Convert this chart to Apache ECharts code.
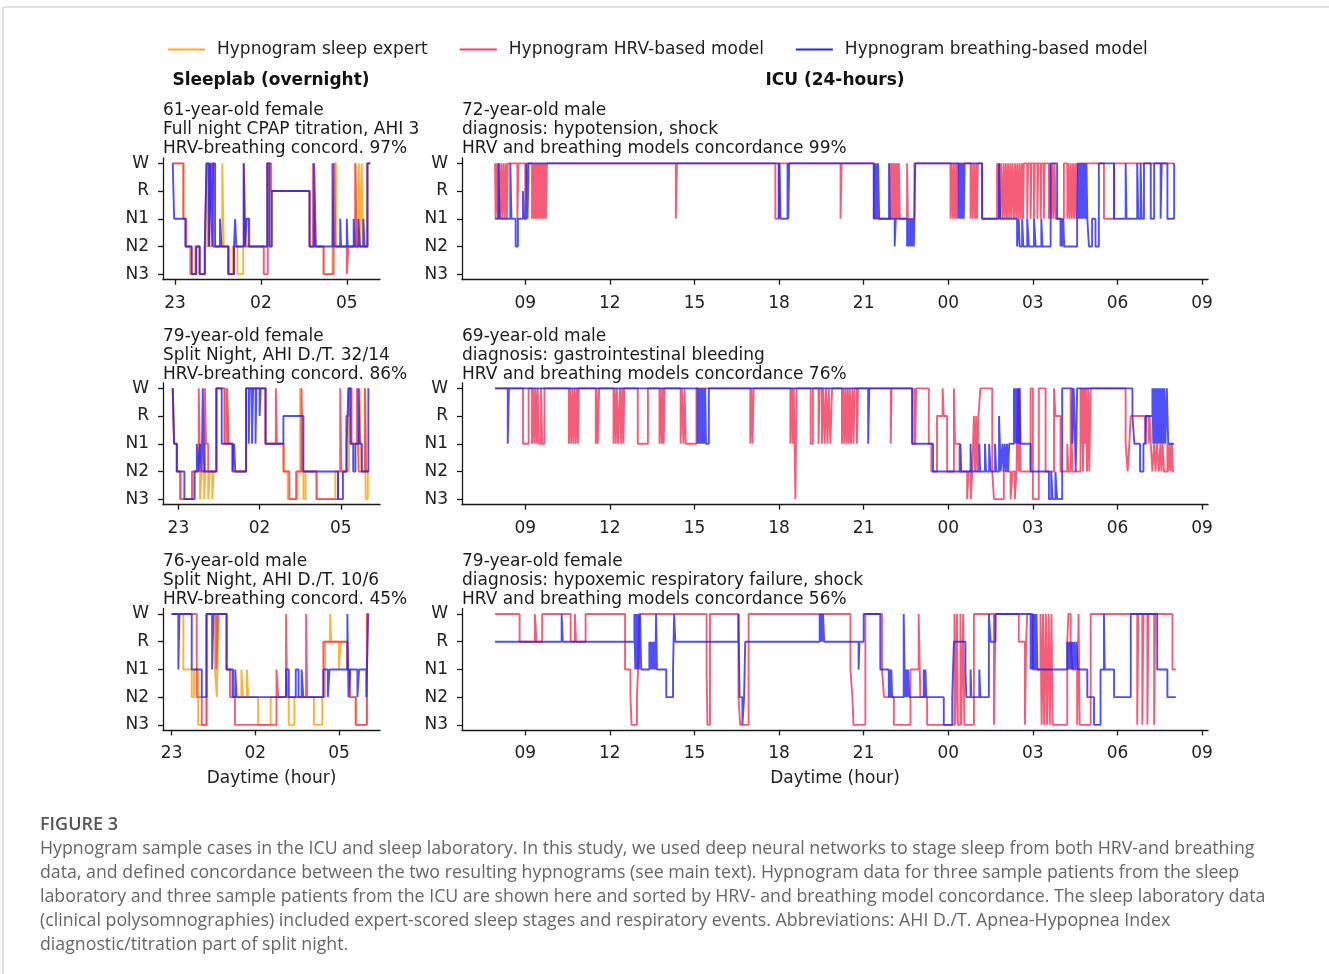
<!DOCTYPE html>
<html><head><meta charset="utf-8">
<script src="https://cdn.jsdelivr.net/npm/echarts@6/dist/echarts.min.js"></script>
<style>html,body{margin:0;padding:0;background:#fff;} #c{width:1329px;height:974px;}</style>
</head><body><div id="c"></div>
<script>
// ---------- labels ----------
const stageLabels = ['N3','N2','N1','R','W'];   // 0..4
const seriesNames = ['Hypnogram sleep expert','Hypnogram HRV-based model','Hypnogram breathing-based model'];
const sleeplabTicks = [23,26,29];
const icuTicks = [9,12,15,18,21,24,27,30,33];
const sleeplabTitles = [
  ['61-year-old female','Full night CPAP titration, AHI 3','HRV-breathing concord. 97%'],
  ['79-year-old female','Split Night, AHI D./T. 32/14','HRV-breathing concord. 86%'],
  ['76-year-old male','Split Night, AHI D./T. 10/6','HRV-breathing concord. 45%']
];
const icuTitles = [
  ['72-year-old male','diagnosis: hypotension, shock','HRV and breathing models concordance 99%'],
  ['69-year-old male','diagnosis: gastrointestinal bleeding','HRV and breathing models concordance 76%'],
  ['79-year-old female','diagnosis: hypoxemic respiratory failure, shock','HRV and breathing models concordance 56%']
];
const captionHead = 'FIGURE 3';
const captionLines = [
  'Hypnogram sample cases in the ICU and sleep laboratory. In this study, we used deep neural networks to stage sleep from both HRV-and breathing',
  'data, and defined concordance between the two resulting hypnograms (see main text). Hypnogram data for three sample patients from the sleep',
  'laboratory and three sample patients from the ICU are shown here and sorted by HRV- and breathing model concordance. The sleep laboratory data',
  '(clinical polysomnographies) included expert-scored sleep stages and respiratory events. Abbreviations: AHI D./T. Apnea-Hypopnea Index',
  'diagnostic/titration part of split night.'
];

// ---------- data: [hour, stage] change points (hour > 24 = next day) ----------
const sleeplab1Expert = [22.92,4, 23.30,2, 23.40,1, 23.52,0, 23.70,1, 23.86,0, 24.04,1, 24.12,4, 24.18,1, 24.65,4, 24.70,1, 24.90,0, 25.02,1, 25.18,0, 25.38,1, 25.50,2, 25.60,1, 26.22,4, 26.30,1, 26.38,3, 27.70,1, 28.19,0, 28.50,1, 28.55,4, 28.62,1, 29.30,4, 29.34,1, 29.42,4, 29.46,1, 29.52,4, 29.56,1, 29.72,4, 29.82,4];
const sleeplab1Hrv = [22.92,4, 23.29,2, 23.38,1, 23.58,0, 23.74,1, 23.86,0, 24.04,1, 24.10,4, 24.20,1, 24.26,4, 24.34,1, 24.86,0, 25.06,1, 25.40,4, 25.46,1, 26.10,0, 26.24,4, 26.36,3, 27.70,1, 27.82,4, 27.88,1, 28.19,0, 28.54,1, 28.56,4, 28.60,1, 29.00,0, 29.06,1, 29.30,4, 29.34,1, 29.72,4, 29.82,4];
const sleeplab1Breath = [22.92,4, 22.97,2, 23.36,1, 23.58,0, 23.74,1, 23.86,0, 24.04,1, 24.10,4, 24.18,1, 24.24,4, 24.30,1, 24.33,4, 24.40,1, 24.57,2, 24.62,1, 24.86,0, 25.06,1, 25.10,2, 25.14,1, 25.40,4, 25.44,1, 25.50,2, 25.58,1, 26.22,4, 26.30,1, 26.38,3, 27.70,1, 27.86,4, 27.92,1, 28.50,4, 28.54,1, 28.77,2, 28.80,1, 29.00,2, 29.03,1, 29.24,2, 29.28,1, 29.40,2, 29.46,1, 29.58,2, 29.62,1, 29.72,4, 29.82,4];

const sleeplab2Expert = [22.79,4, 22.84,2, 22.94,1, 23.10,0, 23.55,1, 23.80,0, 23.86,1, 23.95,0, 24.00,1, 24.10,0, 24.16,1, 24.25,0, 24.30,1, 24.42,4, 24.72,2, 24.76,4, 24.82,2, 25.02,1, 25.50,4, 26.22,2, 26.90,1, 27.04,0, 27.40,1, 27.50,4, 27.54,1, 27.62,0, 27.70,1, 28.10,0, 28.80,1, 29.30,4, 29.36,2, 29.70,4, 29.76,1, 29.88,4, 29.92,0, 30.00,1, 30.04,1];
const sleeplab2Hrv = [22.79,4, 22.84,2, 22.94,1, 23.06,0, 23.50,1, 23.75,4, 23.80,1, 23.98,4, 24.02,2, 24.10,1, 24.40,4, 24.70,2, 24.80,4, 24.86,2, 25.00,1, 25.50,4, 26.22,2, 26.60,4, 26.64,2, 26.88,1, 27.10,0, 27.35,1, 27.55,4, 27.60,1, 28.11,0, 28.90,1, 28.98,4, 29.02,1, 29.20,3, 29.30,4, 29.40,2, 29.60,4, 29.66,1, 29.90,4, 29.94,1, 30.04,1];
const sleeplab2Breath = [22.79,4, 22.84,2, 22.94,1, 23.22,0, 23.60,1, 23.68,2, 23.74,1, 23.80,2, 23.86,1, 23.90,4, 23.95,1, 24.40,4, 24.60,2, 25.00,1, 25.06,2, 25.10,1, 25.50,4, 25.60,2, 25.64,4, 25.72,2, 25.76,4, 25.85,2, 25.88,4, 26.00,3, 26.04,4, 26.22,2, 26.88,3, 27.62,1, 28.90,0, 29.08,1, 29.22,2, 29.28,4, 29.36,2, 29.46,1, 29.54,2, 29.66,4, 29.70,2, 29.78,1, 30.02,4, 30.04,4];

const sleeplab3Expert = [23.00,4, 23.42,2, 23.72,1, 23.80,2, 23.95,0, 24.25,4, 24.55,2, 24.62,1, 24.68,4, 24.97,2, 25.15,1, 25.50,2, 25.56,1, 25.70,2, 25.74,1, 26.10,0, 26.55,1, 27.20,0, 27.40,1, 28.10,0, 28.40,1, 28.50,3, 28.68,4, 28.72,3, 29.00,2, 29.06,3, 29.30,2, 29.40,1, 29.60,0, 30.00,4, 30.06,4];
const sleeplab3Hrv = [23.00,4, 23.90,1, 24.08,0, 24.25,4, 24.60,2, 24.66,4, 24.97,2, 25.09,1, 25.27,0, 26.76,2, 26.82,1, 27.10,4, 27.14,1, 27.82,4, 27.86,1, 28.44,3, 29.30,2, 29.39,1, 29.60,0, 30.00,4, 30.06,4];
const sleeplab3Breath = [23.00,4, 23.24,2, 23.28,4, 23.72,2, 24.08,1, 24.25,4, 24.45,2, 24.50,4, 24.97,2, 25.20,1, 25.28,2, 25.33,1, 27.10,2, 27.20,1, 27.45,2, 27.55,1, 27.66,2, 27.72,1, 28.44,2, 28.60,1, 28.66,2, 29.30,4, 29.34,1, 29.40,2, 29.66,1, 29.72,2, 29.98,1, 30.05,4, 30.06,4];

const icu1Hrv = [7.93,4, 7.95,2, 7.99,4, 8.03,2, 8.07,4, 8.11,2, 8.15,4, 8.19,2, 8.23,4, 8.27,2, 8.31,4, 8.35,2, 8.38,4, 8.72,2, 8.76,4, 9.00,2, 9.05,4, 9.24,2, 9.28,4, 9.31,2, 9.34,4, 9.37,2, 9.40,4, 9.43,2, 9.46,4, 9.49,2, 9.52,4, 9.55,2, 9.58,4, 9.61,2, 9.64,4, 9.67,2, 9.70,4, 9.73,2, 9.77,4, 14.34,2, 14.38,4, 17.87,2, 17.99,4, 20.18,2, 20.22,4, 21.36,2, 21.95,4, 21.98,2, 22.01,4, 22.04,2, 22.07,4, 22.10,2, 22.13,4, 22.16,2, 22.19,4, 22.22,2, 22.25,4, 22.28,2, 22.54,4, 22.57,2, 22.80,4, 24.08,2, 24.12,4, 24.16,2, 24.20,4, 24.24,2, 24.28,4, 24.31,2, 24.35,4, 24.79,2, 24.83,4, 24.87,2, 24.91,4, 24.95,2, 24.99,4, 25.02,2, 25.05,4, 25.20,2, 25.73,4, 25.76,2, 25.80,4, 25.83,2, 25.87,4, 25.92,2, 25.96,4, 26.00,2, 26.04,4, 26.08,2, 26.12,4, 26.16,2, 26.20,4, 26.24,2, 26.28,4, 26.33,2, 26.37,4, 26.41,2, 26.45,4, 26.49,2, 26.53,4, 26.57,2, 26.61,4, 26.65,2, 26.68,4, 26.80,2, 26.83,4, 26.92,2, 26.95,4, 27.04,2, 27.07,4, 27.16,2, 27.19,4, 27.28,2, 27.31,4, 27.39,2, 27.42,4, 27.57,2, 27.61,4, 27.65,2, 27.69,4, 27.73,2, 27.77,4, 27.81,2, 28.10,4, 28.22,2, 28.26,4, 28.30,2, 28.34,4, 28.38,2, 28.42,4, 28.46,2, 28.50,4, 28.54,2, 28.57,4, 29.52,2, 29.88,4, 32.01,4];
const icu1Breath = [7.93,2, 8.05,4, 8.09,2, 8.47,4, 8.51,2, 8.66,1, 8.74,2, 8.92,3, 8.96,2, 9.04,4, 9.08,2, 9.12,4, 17.99,2, 18.02,4, 18.05,2, 18.30,4, 18.33,2, 18.36,4, 21.36,2, 21.39,4, 21.42,2, 21.45,4, 21.48,2, 21.51,4, 21.55,2, 21.90,4, 21.93,2, 22.10,1, 22.14,2, 22.54,1, 22.57,2, 22.60,1, 22.63,2, 22.66,1, 22.69,2, 22.72,1, 22.75,2, 22.78,1, 22.83,4, 24.37,2, 24.40,4, 24.43,2, 24.46,4, 24.49,2, 24.52,4, 24.55,2, 24.58,4, 25.20,2, 25.80,4, 25.84,2, 26.44,1, 26.50,2, 26.53,1, 26.62,2, 26.66,1, 26.80,2, 26.86,1, 27.04,2, 27.10,1, 27.30,2, 27.34,1, 27.63,4, 27.86,2, 27.98,1, 28.02,2, 28.05,1, 28.08,2, 28.11,1, 28.57,2, 28.60,4, 28.63,2, 28.66,4, 28.69,2, 28.72,4, 28.75,2, 28.78,4, 28.81,2, 28.84,4, 28.87,2, 28.90,4, 28.93,2, 28.99,1, 29.10,2, 29.22,1, 29.34,4, 29.88,2, 30.29,4, 30.32,2, 30.70,4, 30.74,2, 30.82,4, 30.86,2, 30.94,4, 31.18,2, 31.30,4, 31.53,2, 31.57,4, 31.77,2, 32.01,4];

const icu2Hrv = [7.93,4, 8.92,2, 9.12,4, 9.24,2, 9.28,4, 9.32,2, 9.36,4, 9.40,2, 9.44,4, 9.48,2, 9.56,4, 9.60,2, 9.68,4, 10.55,2, 10.59,4, 10.63,2, 10.67,4, 10.71,2, 10.75,4, 10.79,2, 10.83,4, 10.87,2, 10.90,4, 11.50,2, 11.53,4, 11.57,2, 11.62,4, 12.13,2, 12.17,4, 12.21,2, 12.25,4, 12.29,2, 12.36,4, 12.40,2, 12.44,4, 12.48,2, 12.51,4, 12.99,2, 13.35,4, 13.76,2, 13.80,4, 13.84,2, 13.88,4, 13.91,2, 13.94,4, 14.51,2, 14.55,4, 14.61,2, 14.65,4, 14.69,2, 15.07,4, 16.98,2, 17.02,4, 17.06,2, 17.10,4, 18.40,2, 18.46,4, 18.49,2, 18.52,4, 18.58,0, 18.62,4, 19.12,2, 19.20,4, 19.40,2, 19.44,4, 19.52,2, 19.56,4, 19.62,2, 19.66,4, 19.72,2, 19.76,4, 19.82,2, 19.88,4, 20.23,2, 20.27,4, 20.31,2, 20.35,4, 20.39,2, 20.43,4, 20.47,2, 20.51,4, 20.55,2, 20.60,4, 20.64,2, 20.68,4, 20.76,2, 20.80,4, 21.96,2, 21.99,4, 22.72,2, 22.80,4, 22.83,2, 22.86,4, 23.31,2, 23.40,1, 23.60,3, 23.80,4, 23.84,3, 23.96,1, 24.20,4, 24.24,2, 24.40,1, 24.67,0, 24.72,1, 24.80,0, 24.85,1, 24.91,3, 24.95,1, 24.99,3, 25.03,1, 25.07,3, 25.14,4, 25.56,1, 25.62,0, 25.97,1, 26.21,0, 26.28,1, 26.36,0, 26.42,1, 26.47,4, 26.50,1, 26.53,4, 26.56,1, 26.92,4, 27.00,0, 27.21,4, 27.45,1, 27.75,4, 27.80,3, 27.98,1, 28.22,2, 28.26,1, 28.34,4, 28.40,1, 28.69,4, 28.72,2, 28.75,4, 28.78,1, 28.81,4, 28.84,2, 28.88,4, 28.92,1, 28.96,4, 29.00,1, 29.05,4, 30.29,2, 30.36,1, 30.42,2, 30.47,3, 30.98,2, 31.02,3, 31.10,2, 31.14,3, 31.18,2, 31.24,1, 31.30,2, 31.35,1, 31.40,2, 31.47,1, 31.52,2, 31.56,1, 31.60,2, 31.65,1, 31.77,2, 31.81,1, 31.85,2, 31.89,1, 31.93,2, 31.97,1, 32.01,1];
const icu2Breath = [7.93,4, 8.38,2, 8.42,4, 15.11,2, 15.14,4, 15.17,2, 15.20,4, 15.23,2, 15.26,4, 15.29,2, 15.32,4, 15.35,2, 15.38,4, 15.41,2, 15.51,4, 21.16,2, 21.20,4, 22.72,2, 23.46,1, 24.43,2, 24.46,1, 24.79,2, 24.82,1, 25.10,2, 25.13,1, 25.30,2, 25.34,1, 25.45,2, 25.50,1, 25.66,2, 25.70,1, 25.80,3, 25.86,1, 25.92,2, 25.96,1, 26.00,2, 26.04,1, 26.08,2, 26.12,1, 26.16,2, 26.33,4, 26.36,2, 26.40,4, 26.43,2, 26.47,4, 26.50,2, 26.53,4, 26.56,2, 26.92,1, 27.57,0, 27.65,1, 27.70,0, 27.80,1, 27.86,0, 28.04,4, 28.40,2, 28.45,4, 28.52,1, 28.57,4, 30.53,3, 30.60,2, 30.80,1, 30.92,2, 31.00,3, 31.24,4, 31.27,2, 31.30,4, 31.33,2, 31.36,4, 31.39,2, 31.42,4, 31.45,2, 31.48,4, 31.51,2, 31.54,4, 31.57,2, 31.60,4, 31.63,2, 31.66,4, 31.70,2, 31.75,4, 31.80,2, 32.01,2];

const icu3Hrv = [7.93,4, 8.80,3, 9.34,4, 9.40,3, 9.60,4, 10.61,3, 10.76,4, 10.80,3, 11.14,4, 12.54,2, 12.73,1, 12.77,0, 12.96,1, 13.00,2, 13.05,4, 15.43,2, 15.46,0, 15.55,4, 16.56,1, 16.62,0, 16.92,4, 20.53,2, 20.60,1, 20.64,0, 21.06,4, 21.65,2, 21.72,1, 22.07,0, 22.66,2, 22.95,4, 23.01,1, 23.25,0, 24.22,4, 24.25,0, 24.31,4, 24.34,0, 24.43,4, 24.46,0, 24.53,4, 24.57,0, 24.91,4, 25.62,0, 25.68,4, 26.50,3, 26.72,0, 26.76,3, 26.80,4, 27.00,2, 27.27,4, 27.31,0, 27.36,4, 27.40,0, 27.46,4, 27.50,0, 27.56,4, 27.60,0, 27.66,4, 27.70,0, 28.22,3, 28.26,4, 28.34,3, 28.40,2, 28.57,0, 28.62,4, 28.66,0, 29.05,4, 30.70,0, 30.74,4, 30.88,0, 30.92,4, 31.06,0, 31.10,4, 31.30,0, 31.34,4, 31.95,2, 32.07,2];
const icu3Breath = [7.93,3, 10.29,4, 10.33,3, 12.87,4, 12.90,2, 12.93,4, 12.96,2, 13.00,4, 13.03,2, 13.07,4, 13.11,2, 13.40,3, 13.43,2, 13.46,3, 13.49,2, 13.52,3, 13.55,2, 13.58,3, 13.61,2, 13.64,4, 13.67,2, 14.00,1, 14.24,2, 14.28,4, 14.32,3, 16.56,4, 16.60,1, 16.70,0, 16.76,1, 16.80,3, 19.44,4, 19.47,3, 19.50,4, 19.53,3, 19.56,4, 19.60,3, 20.82,2, 20.85,3, 21.00,4, 21.59,2, 21.89,1, 21.92,2, 21.95,1, 21.98,2, 22.01,1, 22.42,4, 22.45,2, 22.48,1, 22.51,2, 22.55,1, 22.58,2, 22.62,1, 23.13,2, 23.16,1, 23.19,2, 23.22,1, 23.84,0, 24.14,1, 24.20,3, 24.61,2, 24.64,1, 24.79,2, 24.82,1, 25.10,2, 25.14,1, 25.44,4, 25.50,3, 25.67,4, 26.92,2, 26.95,4, 26.98,2, 27.01,4, 27.04,2, 27.07,4, 27.10,2, 27.13,4, 27.16,2, 28.22,3, 28.25,2, 28.28,3, 28.31,2, 28.34,3, 28.37,2, 28.40,3, 28.43,2, 28.47,3, 28.51,2, 28.55,3, 28.59,2, 28.93,1, 29.17,0, 29.40,2, 29.52,4, 29.55,2, 29.88,1, 30.47,4, 31.41,2, 31.77,1, 32.07,1];

// ---------- build ----------
const FONT = 'DejaVu Sans';
const colors = ['#ffab1f', '#f2405f', '#2323f5'];
const opac = [0.9, 0.85, 0.8];
const pairs = f => { const o = []; for (let i = 0; i < f.length; i += 2) o.push([f[i], f[i+1]]); return o; };
const fmtHour = v => String(((Math.round(v) % 24) + 24) % 24).padStart(2, '0');

const rowTops = [157.8, 382.8, 608.5];
const gridH = 121.9;
const sleeplabRanges = [[22.58, 30.16], [22.43, 30.45], [22.69, 30.47]];
const icuRange = [6.757, 33.21];

const sleeplabData = [
  [sleeplab1Expert, sleeplab1Hrv, sleeplab1Breath],
  [sleeplab2Expert, sleeplab2Hrv, sleeplab2Breath],
  [sleeplab3Expert, sleeplab3Hrv, sleeplab3Breath]
];
const icuData = [[icu1Hrv, icu1Breath], [icu2Hrv, icu2Breath], [icu3Hrv, icu3Breath]];

const grids = [], xAxes = [], yAxes = [], series = [], graphic = [];
const axisCol = '#1a1a1a';
function addAxes(idx, row, left, width, range, ticks) {
  grids.push({ left: left, top: rowTops[row], width: width, height: gridH, containLabel: false });
  xAxes.push({
    gridIndex: idx, type: 'value', min: range[0], max: range[1],
    axisLine: { show: true, onZero: false, lineStyle: { color: axisCol, width: 1.3 } },
    axisTick: { show: true, customValues: ticks, length: 5, lineStyle: { color: axisCol, width: 1.3 } },
    axisLabel: { customValues: ticks, formatter: fmtHour, fontSize: 17, fontFamily: FONT, color: '#222', margin: 15 },
    splitLine: { show: false },
    name: row === 2 ? 'Daytime (hour)' : '', nameLocation: 'middle', nameGap: 40,
    nameTextStyle: { fontSize: 17, fontFamily: FONT, color: '#222' }
  });
  yAxes.push({
    gridIndex: idx, type: 'value', min: -0.2, max: 4.2,
    axisLine: { show: true, onZero: false, lineStyle: { color: axisCol, width: 1.3 } },
    axisTick: { show: true, customValues: [0,1,2,3,4], length: 5, lineStyle: { color: axisCol, width: 1.3 } },
    axisLabel: { customValues: [0,1,2,3,4], formatter: v => stageLabels[Math.round(v)], fontSize: 17, fontFamily: FONT, color: '#222', margin: 14 },
    splitLine: { show: false }
  });
}
function addSeries(idx, flat, kind) {
  series.push({
    type: 'line', name: seriesNames[kind], xAxisIndex: idx, yAxisIndex: idx,
    data: pairs(flat), step: 'end', symbol: 'none', showSymbol: false, silent: true,
    color: colors[kind], itemStyle: { color: colors[kind] },
    lineStyle: { width: 1.9, color: colors[kind], opacity: opac[kind] },
    z: 2 + kind, animation: false
  });
}
function addTitle(x, firstY, lines) {
  lines.forEach((t, k) => graphic.push({
    type: 'text', x: x, y: firstY + k * 19,
    style: { text: t, font: '17px "DejaVu Sans"', fill: '#1a1a1a', textAlign: 'left', textVerticalAlign: 'middle' }
  }));
}
const titleY = [111, 336.5, 562];
for (let r = 0; r < 3; r++) {
  const li = r * 2, ri = r * 2 + 1;
  addAxes(li, r, 163, 217, sleeplabRanges[r], sleeplabTicks);
  addAxes(ri, r, 462, 746, icuRange, icuTicks);
  sleeplabData[r].forEach((d, k) => addSeries(li, d, k));
  icuData[r].forEach((d, k) => addSeries(ri, d, k + 1));
  addTitle(163, titleY[r], sleeplabTitles[r]);
  addTitle(462, titleY[r], icuTitles[r]);
}
// headers
graphic.push({ type: 'text', x: 271, y: 81, style: { text: 'Sleeplab (overnight)', font: 'bold 17px "DejaVu Sans"', fill: '#111', textAlign: 'center', textVerticalAlign: 'middle' } });
graphic.push({ type: 'text', x: 835, y: 81, style: { text: 'ICU (24-hours)', font: 'bold 17px "DejaVu Sans"', fill: '#111', textAlign: 'center', textVerticalAlign: 'middle' } });
// frame
graphic.push({ type: 'line', shape: { x1: 3, y1: 7, x2: 1329, y2: 7 }, style: { stroke: '#d6d6d6', lineWidth: 1.5 } });
graphic.push({ type: 'line', shape: { x1: 3, y1: 7, x2: 3, y2: 974 }, style: { stroke: '#d6d6d6', lineWidth: 1.5 } });
// caption
graphic.push({ type: 'text', x: 40, y: 825, style: { text: captionHead, font: '600 18px "Open Sans"', fill: '#555', textAlign: 'left', textVerticalAlign: 'middle' } });
captionLines.forEach((t, k) => graphic.push({
  type: 'text', x: 40, y: 849 + k * 24,
  style: { text: t, font: '17.75px "Open Sans"', fill: '#666', textAlign: 'left', textVerticalAlign: 'middle' }
}));

const option = {
  animation: false,
  backgroundColor: '#fff',
  textStyle: { fontFamily: FONT },
  legend: {
    data: seriesNames, left: 168, top: 41, padding: 0, icon: 'rect', itemWidth: 37, itemHeight: 2, itemGap: 32,
    textStyle: { fontSize: 17, fontFamily: FONT, color: '#222', padding: [0, 0, 0, 7] },
    selectedMode: false
  },
  grid: grids, xAxis: xAxes, yAxis: yAxes, series: series, graphic: graphic
};
const chart = echarts.init(document.getElementById('c'), null, { renderer: 'canvas' });
chart.setOption(option);
</script></body></html>
